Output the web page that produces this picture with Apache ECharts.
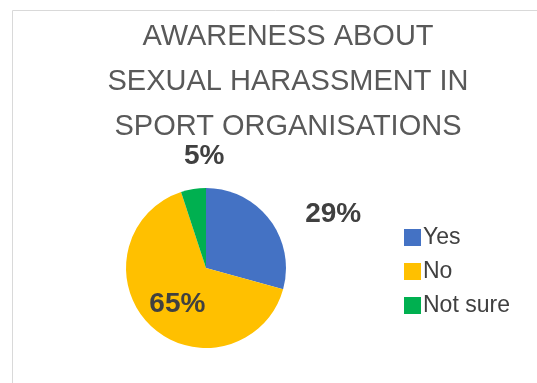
<!DOCTYPE html>
<html><head><meta charset="utf-8">
<script src="https://cdn.jsdelivr.net/npm/echarts@6/dist/echarts.min.js"></script>
<style>html,body{margin:0;padding:0;background:#fff}#c{width:537px;height:383px}</style>
</head><body><div id="c"></div>
<script>
const titleText = "AWARENESS ABOUT\nSEXUAL HARASSMENT IN\nSPORT ORGANISATIONS";
const categories = ["Yes", "No", "Not sure"];
const values = [29, 65, 5];
const colors = ["#4472C4", "#FFC000", "#00B050"];
const labelOffsets = [[93, -28], [1, 5], [5, -69]];

const chart = echarts.init(document.getElementById('c'));
chart.setOption({
  animation: false,
  graphic: [{type: 'rect', shape: {x: 12.5, y: 10.5, width: 600, height: 400}, style: {fill: 'none', stroke: '#d9d9d9', lineWidth: 1}, silent: true}],
  title: {
    text: titleText, top: 9, left: 283, textAlign: 'center',
    textStyle: {fontFamily: 'Liberation Sans', fontSize: 29, fontWeight: 'normal', color: '#595959', lineHeight: 45}
  },
  legend: {
    orient: 'vertical', left: 399, top: 221, itemWidth: 17, itemHeight: 17, itemGap: 11,
    icon: 'rect',
    textStyle: {fontFamily: 'Liberation Sans', fontSize: 23, color: '#404040', padding: [0, 0, 0, -3]},
    data: categories
  },
  series: [{
    type: 'pie', center: [206, 268], radius: 80, startAngle: 90, clockwise: true,
    label: {show: true, position: 'inside', formatter: '{c}%', fontFamily: 'Liberation Sans', fontSize: 28, fontWeight: 'bold', color: '#404040'},
    labelLine: {show: false},
    itemStyle: {borderWidth: 0},
    emphasis: {disabled: true},
    data: categories.map((n, i) => ({name: n, value: values[i], itemStyle: {color: colors[i]}, label: {offset: labelOffsets[i]}}))
  }]
});
</script></body></html>
